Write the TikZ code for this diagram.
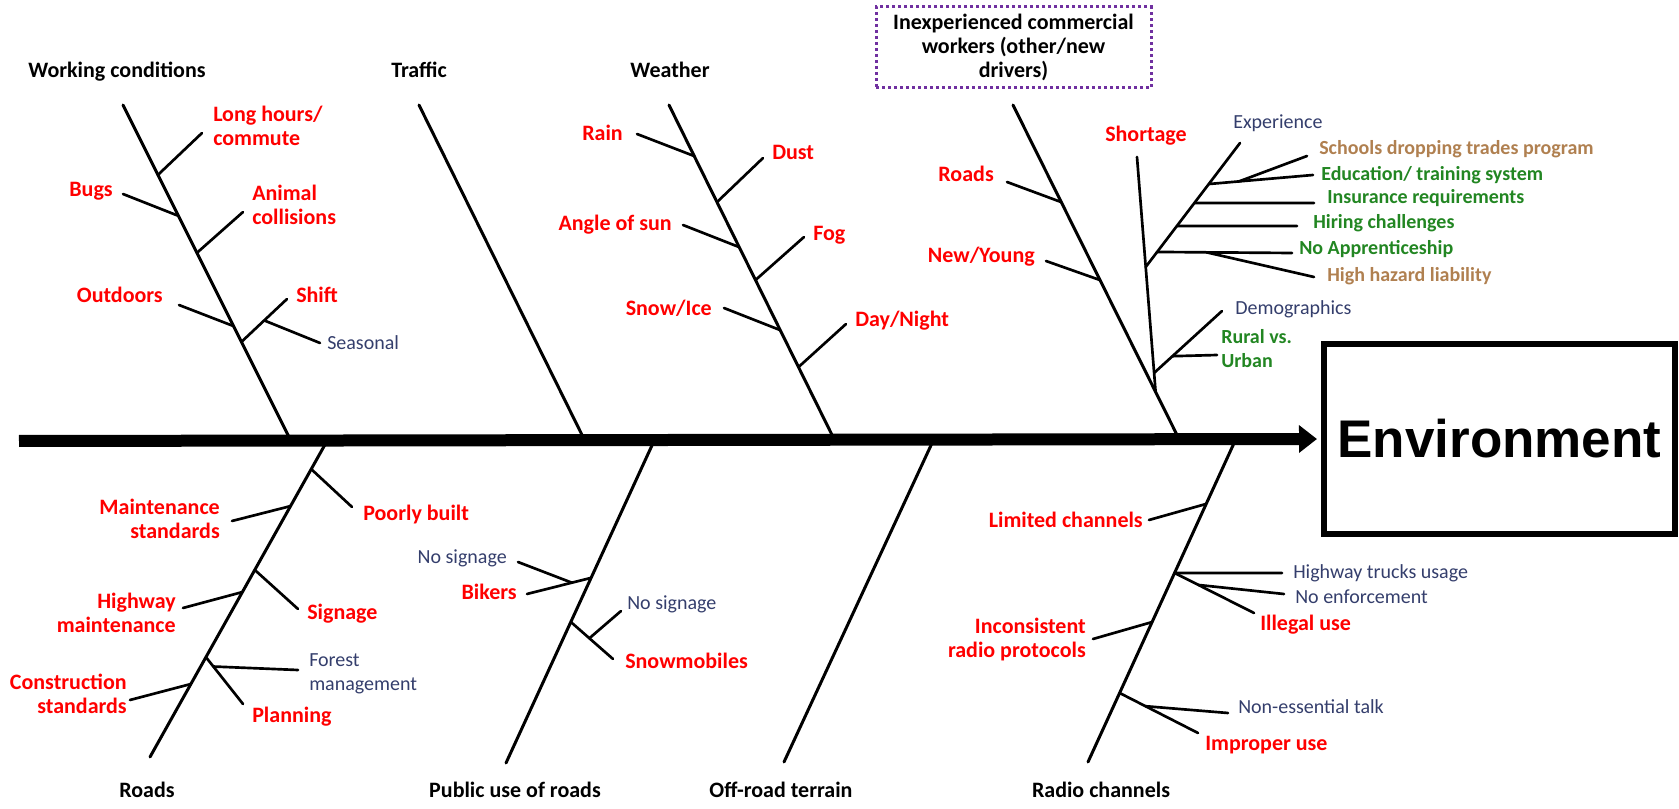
\documentclass[tikz,border=0pt]{standalone}
\usepackage{fontspec}
\setmainfont{Carlito}
\newfontfamily\envfont{Liberation Sans}
\usetikzlibrary{arrows.meta,calc}
\definecolor{causered}{RGB}{255,0,0}
\definecolor{subblue}{RGB}{52,62,108}
\definecolor{subgreen}{RGB}{34,134,34}
\definecolor{subbrown}{RGB}{176,128,80}
\definecolor{boxpurple}{RGB}{112,48,160}

\begin{document}
\begin{tikzpicture}[x=0.75pt,y=-0.75pt,
  bone/.style={line width=2.25pt, line cap=round},
  twig/.style={line width=2pt, line cap=round},
  spine/.style={line width=9pt, -{Triangle[length=13.5pt,width=20pt]}},
  cat/.style={font=\fontsize{16.5pt}{18pt}\selectfont\bfseries, inner sep=0pt},
  cause/.style={font=\fontsize{16.5pt}{18pt}\selectfont\bfseries, text=causered, inner sep=0pt},
  detail/.style={font=\fontsize{15pt}{18pt}\selectfont, text=subblue, inner sep=0pt},
  factor/.style={font=\fontsize{15pt}{18pt}\selectfont\bfseries, text=subgreen, inner sep=0pt},
  factorb/.style={factor, text=subbrown},
]
\useasboundingbox (0,0) rectangle (1679,809);

% ---------- effect box and spine ----------
\node[draw, line width=4.5pt, minimum width=263.25pt, minimum height=141.75pt, inner sep=0pt,
      font=\envfont\fontsize{39.75pt}{44pt}\selectfont\bfseries] (env) at (1499.5,439) {Environment};
\coordinate (spineL) at (19,441);
\draw[spine] (spineL) -- ([xshift=-3pt]env.west);

% ---------- category labels ----------
\node[cat, anchor=base] (lblWC) at (117,78) {Working conditions};
\node[cat, anchor=base] (lblTR) at (419,78) {Traffic};
\node[cat, anchor=base] (lblWE) at (670,78) {Weather};
\node[draw=boxpurple, line width=2.25pt, dash pattern=on 2.5pt off 2pt, minimum width=206.25pt,
      minimum height=60.75pt, inner sep=0pt, align=center,
      font=\fontsize{16.5pt}{18pt}\selectfont\bfseries] (lblIN) at (1013.5,47.5) {};
\node[align=center, inner sep=0pt, anchor=base,
      font=\fontsize{16.5pt}{18pt}\selectfont\bfseries] (lblINtext) at (1013.5,78)
      {Inexperienced commercial\\workers (other/new\\drivers)};
\node[cat, anchor=base] (lblRO) at (147,797) {Roads};
\node[cat, anchor=base] (lblPU) at (515,797) {Public use of roads};
\node[cat, anchor=base] (lblOF) at (781,797) {Off-road terrain};
\node[cat, anchor=base] (lblRA) at (1101,797) {Radio channels};

% ---------- main bones ----------
\coordinate (wcT) at (123,105);   \coordinate (wcB) at (291,441);
\coordinate (trT) at (419,105);   \coordinate (trB) at (585,441);
\coordinate (weT) at (669,105);   \coordinate (weB) at (835,441);
\coordinate (inT) at (1013,105);  \coordinate (inB) at (1180,441);
\coordinate (roT) at (327,441);   \coordinate (roB) at (150,757);
\coordinate (puT) at (654,441);   \coordinate (puB) at (506,763);
\coordinate (ofT) at (933,441);   \coordinate (ofB) at (784,762);
\coordinate (raT) at (1235,441);  \coordinate (raB) at (1088,762);
\foreach \b in {wc,tr,we,in,ro,pu,of,ra} \draw[bone] (\b T) -- (\b B);

% ---------- Working conditions ----------
\coordinate (lhJ) at ($(wcT)!0.208!(wcB)$);  \coordinate (lhE) at (202,133);
\coordinate (bugJ) at ($(wcT)!0.330!(wcB)$); \coordinate (bugE) at (123,194);
\coordinate (aniJ) at ($(wcT)!0.440!(wcB)$); \coordinate (aniE) at (243,212);
\coordinate (outJ) at ($(wcT)!0.658!(wcB)$); \coordinate (outE) at (179,305);
\coordinate (shiJ) at ($(wcT)!0.705!(wcB)$); \coordinate (shiE) at (287,299);
\coordinate (seaJ) at ($(shiJ)!0.5!(shiE)$); \coordinate (seaE) at (320,343);
\foreach \t in {lh,bug,ani,out,shi,sea} \draw[twig] (\t J) -- (\t E);
\node[cause, anchor=base west, align=left] (lh) at (213,146) {Long hours/\\commute};
\node[cause, anchor=base east] (bug) at (113,197) {Bugs};
\node[cause, anchor=base west, align=left] (ani) at (252,225) {Animal\\collisions};
\node[cause, anchor=base east] (out) at (163,303) {Outdoors};
\node[cause, anchor=base west] (shi) at (296,303) {Shift};
\node[detail, anchor=base west] (sea) at (327,350) {Seasonal};

% ---------- Weather ----------
\coordinate (rainJ) at ($(weT)!0.152!(weB)$); \coordinate (rainE) at (637,134);
\coordinate (dustJ) at ($(weT)!0.289!(weB)$); \coordinate (dustE) at (763,158);
\coordinate (angJ) at ($(weT)!0.423!(weB)$);  \coordinate (angE) at (683,225);
\coordinate (fogJ) at ($(weT)!0.521!(weB)$);  \coordinate (fogE) at (804,237);
\coordinate (snowJ) at ($(weT)!0.670!(weB)$); \coordinate (snowE) at (724,308);
\coordinate (dayJ) at ($(weT)!0.780!(weB)$);  \coordinate (dayE) at (846,324);
\foreach \t in {rain,dust,ang,fog,snow,day} \draw[twig] (\t J) -- (\t E);
\node[cause, anchor=base east] (rain) at (623,141) {Rain};
\node[cause, anchor=base west] (dust) at (772,160) {Dust};
\node[cause, anchor=base east] (ang) at (672,231) {Angle of sun};
\node[cause, anchor=base west] (fog) at (813,241) {Fog};
\node[cause, anchor=base east] (snow) at (712,316) {Snow/Ice};
\node[cause, anchor=base west] (day) at (855,327) {Day/Night};

% ---------- Inexperienced commercial workers ----------
\coordinate (rdJ) at ($(inT)!0.289!(inB)$);   \coordinate (rdE) at (1007,182);
\coordinate (nyJ) at ($(inT)!0.521!(inB)$);   \coordinate (nyE) at (1046,261);
\coordinate (shB) at ($(inT)!0.854!(inB)$);   \coordinate (shT) at (1137,157);
\foreach \t in {rd,ny} \draw[twig] (\t J) -- (\t E);
\draw[twig] (shT) -- (shB);
\coordinate (expJ) at ($(shT)!0.468!(shB)$);  \coordinate (expE) at (1240,143);
\draw[twig] (expJ) -- (expE);
\coordinate (eduJ) at ($(expJ)!0.669!(expE)$); \coordinate (eduE) at (1313,175);
\coordinate (insJ) at ($(expJ)!0.516!(expE)$); \coordinate (insE) at (1314,203);
\coordinate (hirJ) at ($(expJ)!0.331!(expE)$); \coordinate (hirE) at (1297,226);
\coordinate (noaJ) at ($(expJ)!0.121!(expE)$); \coordinate (noaE) at (1292,253);
\coordinate (schJ) at ($(eduJ)!0.29!(eduE)$);  \coordinate (schE) at (1307,156);
\coordinate (hhJ) at ($(noaJ)!0.366!(noaE)$);  \coordinate (hhE) at (1314,277);
\coordinate (demJ) at ($(shT)!0.919!(shB)$);   \coordinate (demE) at (1222,311);
\coordinate (rurJ) at ($(demJ)!0.27!(demE)$);  \coordinate (rurE) at (1217,355);
\foreach \t in {edu,ins,hir,noa,sch,hh,dem,rur} \draw[twig] (\t J) -- (\t E);
\node[cause, anchor=base east] (rd) at (994,182) {Roads};
\node[cause, anchor=base east] (ny) at (1035,263) {New/Young};
\node[cause, anchor=base west] (sh) at (1105,142) {Shortage};
\node[detail, anchor=base west] (exp) at (1233,129) {Experience};
\node[factorb, anchor=base west] (sch) at (1319,155) {Schools dropping trades program};
\node[factor, anchor=base west] (edu) at (1321,181) {Education/ training system};
\node[factor, anchor=base west] (ins) at (1327,204) {Insurance requirements};
\node[factor, anchor=base west] (hir) at (1313,229) {Hiring challenges};
\node[factor, anchor=base west] (noa) at (1299,255) {No Apprenticeship};
\node[factorb, anchor=base west] (hh) at (1327,282) {High hazard liability};
\node[detail, anchor=base west] (dem) at (1235,315) {Demographics};
\node[factor, anchor=base west, align=left] (rur) at (1221,368) {Rural vs.\\Urban};

% ---------- Roads ----------
\coordinate (pbJ) at ($(roT)!0.089!(roB)$);   \coordinate (pbE) at (352,507);
\coordinate (msJ) at ($(roT)!0.206!(roB)$);   \coordinate (msE) at (232,521);
\coordinate (sgJ) at ($(roT)!0.408!(roB)$);   \coordinate (sgE) at (298,609);
\coordinate (hmJ) at ($(roT)!0.478!(roB)$);   \coordinate (hmE) at (183,608);
\coordinate (plJ) at ($(roT)!0.684!(roB)$);   \coordinate (plE) at (243,704);
\coordinate (fmJ) at ($(plJ)!0.2!(plE)$);     \coordinate (fmE) at (298,670);
\coordinate (csJ) at ($(roT)!0.769!(roB)$);   \coordinate (csE) at (130,700);
\foreach \t in {pb,ms,sg,hm,pl,fm,cs} \draw[twig] (\t J) -- (\t E);
\node[cause, anchor=base west] (pb) at (363,520) {Poorly built};
\node[cause, anchor=base east, align=right] (ms) at (220,538) {Maintenance\\standards};
\node[cause, anchor=base west] (sg) at (307,619) {Signage};
\node[cause, anchor=base east, align=right] (hm) at (176,632) {Highway\\maintenance};
\node[detail, anchor=base west, align=left] (fm) at (309,690) {Forest\\management};
\node[cause, anchor=base west] (pl) at (252,722) {Planning};
\node[cause, anchor=base east, align=right] (cs) at (127,713) {Construction\\standards};

% ---------- Public use of roads ----------
\coordinate (bkJ) at ($(puT)!0.425!(puB)$);   \coordinate (bkE) at (527,594);
\coordinate (smJ) at ($(puT)!0.562!(puB)$);   \coordinate (smE) at (613,659);
\coordinate (nlJ) at ($(bkJ)!0.3!(bkE)$);     \coordinate (nlE) at (518,562);
\coordinate (nrJ) at ($(smJ)!0.44!(smE)$);    \coordinate (nrE) at (621,611);
\foreach \t in {bk,sm,nl,nr} \draw[twig] (\t J) -- (\t E);
\node[detail, anchor=base east] (nl) at (507,563) {No signage};
\node[cause, anchor=base east] (bk) at (517,599) {Bikers};
\node[detail, anchor=base west] (nr) at (627,609) {No signage};
\node[cause, anchor=base west] (sm) at (625,668) {Snowmobiles};

% ---------- Radio channels ----------
\coordinate (lcJ) at ($(raT)!0.196!(raB)$);   \coordinate (lcE) at (1149,520);
\coordinate (htJ) at ($(raT)!0.411!(raB)$);   \coordinate (htE) at (1282,573);
\coordinate (ilJ) at (htJ);                    \coordinate (ilE) at (1254,613);
\coordinate (neJ) at ($(ilJ)!0.3!(ilE)$);      \coordinate (neE) at (1284,594);
\coordinate (irJ) at ($(raT)!0.564!(raB)$);   \coordinate (irE) at (1093,639);
\coordinate (imJ) at ($(raT)!0.785!(raB)$);   \coordinate (imE) at (1198,733);
\coordinate (ntJ) at ($(imJ)!0.33!(imE)$);     \coordinate (ntE) at (1228,713);
\foreach \t in {lc,ht,il,ne,ir,im,nt} \draw[twig] (\t J) -- (\t E);
\node[cause, anchor=base east] (lc) at (1143,527) {Limited channels};
\node[detail, anchor=base west] (ht) at (1293,578) {Highway trucks usage};
\node[detail, anchor=base west] (ne) at (1295,603) {No enforcement};
\node[cause, anchor=base west] (il) at (1260,630) {Illegal use};
\node[cause, anchor=base east, align=right] (ir) at (1086,657) {Inconsistent\\radio protocols};
\node[detail, anchor=base west] (nt) at (1238,713) {Non-essential talk};
\node[cause, anchor=base west] (im) at (1205,750) {Improper use};
\end{tikzpicture}
\end{document}
